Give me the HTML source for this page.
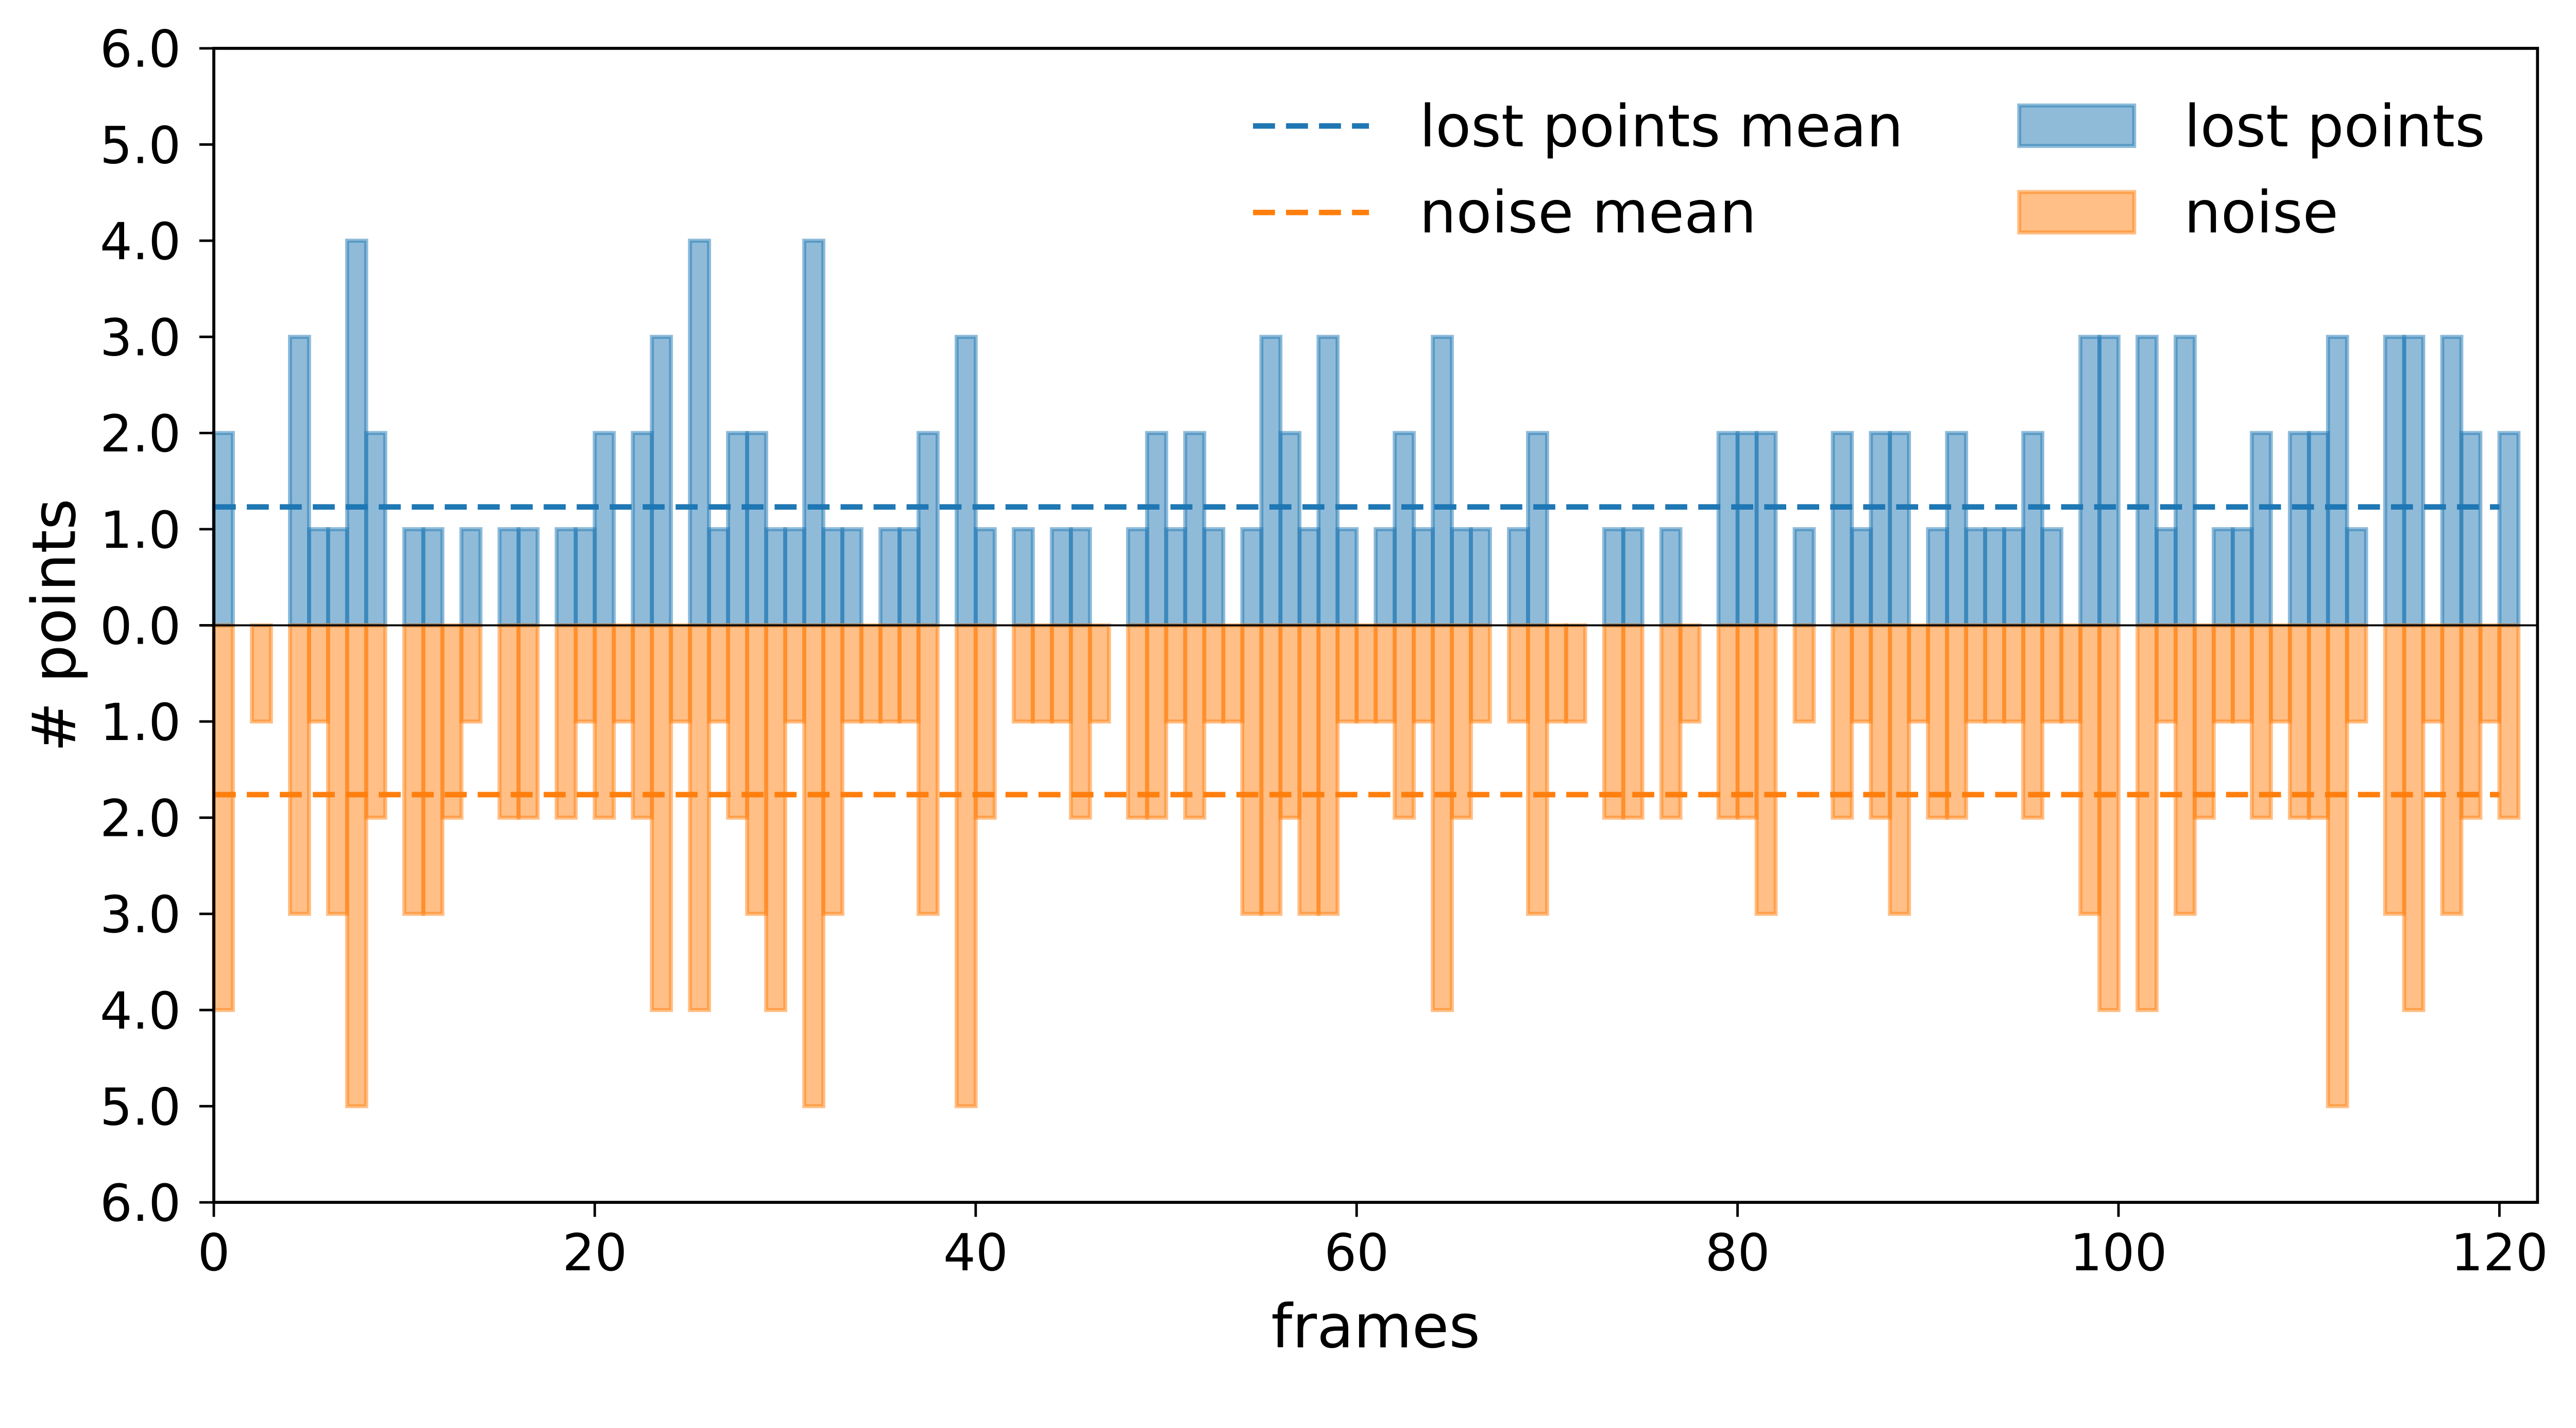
<!DOCTYPE html>
<html><head><meta charset="utf-8"><style>
html,body{margin:0;padding:0;background:#fff;overflow:hidden;}
svg{display:block;font-family:"DejaVu Sans","Liberation Sans",sans-serif;width:100vw;height:53.7641vw;}
</style></head><body>
<svg id="chart" viewBox="0 0 5154 2771" preserveAspectRatio="xMinYMin meet" xmlns="http://www.w3.org/2000/svg">
<rect x="0" y="0" width="5154" height="2771" fill="#fff"/>
<g id="bars"></g>
<g id="means"></g>
<g id="axes"></g>
<g id="legend"></g>
</svg>
<script>
const lostPoints = [2,0,0,0,3,1,1,4,2,0,1,1,0,1,0,1,1,0,1,1,2,0,2,3,0,4,1,2,2,1,1,
4,1,1,0,1,1,2,0,3,1,0,1,0,1,1,0,0,1,2,1,2,1,0,1,3,2,1,3,1,0,1,2,1,
3,1,1,0,1,2,0,0,0,1,1,0,1,0,0,2,2,2,0,1,0,2,1,2,2,0,1,2,1,1,1,2,
1,0,3,3,0,3,1,3,0,1,1,2,0,2,2,3,1,0,3,3,0,3,2,0,2];
const noise = [4,0,1,0,3,1,3,5,2,0,3,3,2,1,0,2,2,0,2,1,2,1,2,4,1,4,1,2,3,4,1,
5,3,1,1,1,1,3,0,5,2,0,1,1,1,2,1,0,2,2,1,2,1,1,3,3,2,3,3,1,1,1,2,1,
4,2,1,0,1,3,1,1,0,2,2,0,2,1,0,2,2,3,0,1,0,2,1,2,3,1,2,2,1,1,1,2,
1,1,3,4,0,4,1,3,2,1,1,2,1,2,2,5,1,0,3,4,1,3,2,1,2];
const xTicks = [0,20,40,60,80,100,120];
const yTicks = [-6,-5,-4,-3,-2,-1,0,1,2,3,4,5,6];
const yTickLabels = ["6.0","5.0","4.0","3.0","2.0","1.0","0.0","1.0","2.0","3.0","4.0","5.0","6.0"];

const NS="http://www.w3.org/2000/svg";
const L=427.8, R=5077, T=96.7, B=2405;
const xMin=0, xMax=122, yMin=-6, yMax=6;
const X=v=>L+(v-xMin)/(xMax-xMin)*(R-L);
const Y=v=>B-(v-yMin)/(yMax-yMin)*(B-T);
function mk(tag,attrs,parent){const e=document.createElementNS(NS,tag);for(const k in attrs)e.setAttribute(k,attrs[k]);parent.appendChild(e);return e;}
const gBars=document.getElementById('bars'),gMeans=document.getElementById('means'),gAxes=document.getElementById('axes'),gLeg=document.getElementById('legend');
const BLUE="#1f77b4",ORANGE="#ff7f0e";

lostPoints.forEach((v,i)=>{
  if(v<=0)return;
  const r=mk('rect',{x:X(i),y:Y(v),width:X(i+1)-X(i),height:Y(0)-Y(v),fill:BLUE,'fill-opacity':0.5,stroke:BLUE,'stroke-opacity':0.5,'stroke-width':8},gBars);
  
  
});
noise.forEach((v,i)=>{
  if(v<=0)return;
  const r=mk('rect',{x:X(i),y:Y(0),width:X(i+1)-X(i),height:Y(-v)-Y(0),fill:ORANGE,'fill-opacity':0.5,stroke:ORANGE,'stroke-opacity':0.5,'stroke-width':8},gBars);
  
  
});
const meanLost=lostPoints.reduce((a,b)=>a+b,0)/lostPoints.length;
const meanNoise=noise.reduce((a,b)=>a+b,0)/noise.length;
const lastX=lostPoints.length-1;
const m1=mk('line',{x1:X(0),x2:X(lastX),y1:Y(meanLost),y2:Y(meanLost),stroke:BLUE,'stroke-width':11,'stroke-dasharray':'44 22'},gMeans);


const m2=mk('line',{x1:X(0),x2:X(lastX),y1:Y(-meanNoise),y2:Y(-meanNoise),stroke:ORANGE,'stroke-width':11,'stroke-dasharray':'44 22'},gMeans);



const zl=mk('line',{x1:L,x2:R,y1:Y(0),y2:Y(0),stroke:'#000','stroke-width':4},gAxes);


const frame=mk('rect',{x:L,y:T,width:R-L,height:B-T,fill:'none',stroke:'#000','stroke-width':6},gAxes);



xTicks.forEach(t=>{
  const tk=mk('line',{x1:X(t),x2:X(t),y1:B,y2:B+29,stroke:'#000','stroke-width':5},gAxes);
  
  
  const tx=mk('text',{x:X(t),y:2541,'font-size':102,'text-anchor':'middle',fill:'#000'},gAxes);
  tx.textContent=String(t);
  
  
});
yTicks.forEach((t,i)=>{
  const tk=mk('line',{x1:L-29,x2:L,y1:Y(t),y2:Y(t),stroke:'#000','stroke-width':5},gAxes);
  
  
  const tx=mk('text',{x:362,y:Y(t)+37,'font-size':102,'text-anchor':'end',fill:'#000'},gAxes);
  tx.textContent=yTickLabels[i];
  
  
});
const xl=mk('text',{x:(L+R)/2,y:2695,'font-size':120,'text-anchor':'middle',fill:'#000'},gAxes);
xl.textContent='frames';


const yl=mk('text',{x:0,y:0,'font-size':120,'text-anchor':'middle',fill:'#000',transform:'translate(150,'+Y(0)+') rotate(-90)'},gAxes);
yl.textContent='# points';



const l1=mk('line',{x1:2507,x2:2739,y1:252,y2:252,stroke:BLUE,'stroke-width':11,'stroke-dasharray':'44 22'},gLeg);


const t1=mk('text',{x:2840,y:293,'font-size':116,fill:'#000'},gLeg);
t1.textContent='lost points mean';


const l2=mk('line',{x1:2507,x2:2739,y1:425,y2:425,stroke:ORANGE,'stroke-width':11,'stroke-dasharray':'44 22'},gLeg);


const t2=mk('text',{x:2840,y:465,'font-size':116,fill:'#000'},gLeg);
t2.textContent='noise mean';


const p1=mk('rect',{x:4040,y:211,width:230,height:81,fill:BLUE,'fill-opacity':0.5,stroke:BLUE,'stroke-opacity':0.5,'stroke-width':8},gLeg);


const t3=mk('text',{x:4370,y:293,'font-size':116,fill:'#000'},gLeg);
t3.textContent='lost points';


const p2=mk('rect',{x:4040,y:384,width:230,height:81,fill:ORANGE,'fill-opacity':0.5,stroke:ORANGE,'stroke-opacity':0.5,'stroke-width':8},gLeg);


const t4=mk('text',{x:4370,y:465,'font-size':116,fill:'#000'},gLeg);
t4.textContent='noise';


</script>
</body></html>
